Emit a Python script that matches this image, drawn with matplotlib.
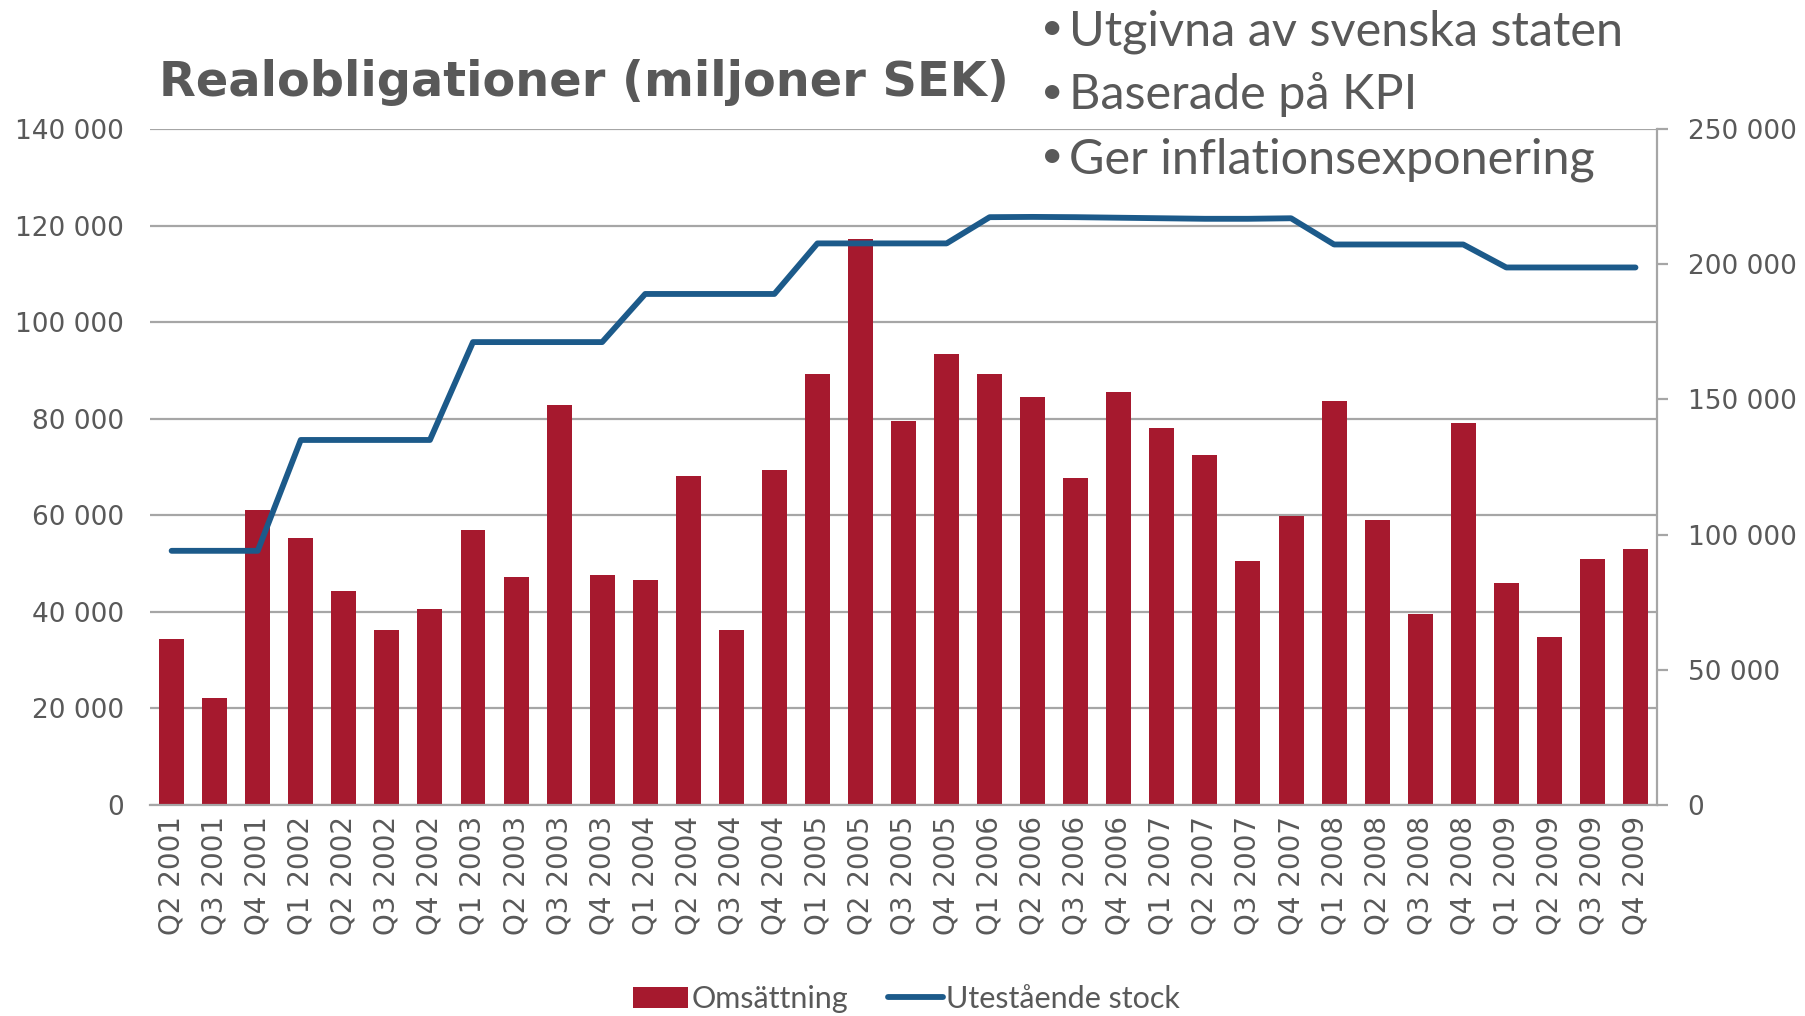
import numpy as np
import matplotlib.pyplot as plt

# kvartal
quarters = ["Q2 2001", "Q3 2001", "Q4 2001",
            "Q1 2002", "Q2 2002", "Q3 2002", "Q4 2002",
            "Q1 2003", "Q2 2003", "Q3 2003", "Q4 2003",
            "Q1 2004", "Q2 2004", "Q3 2004", "Q4 2004",
            "Q1 2005", "Q2 2005", "Q3 2005", "Q4 2005",
            "Q1 2006", "Q2 2006", "Q3 2006", "Q4 2006",
            "Q1 2007", "Q2 2007", "Q3 2007", "Q4 2007",
            "Q1 2008", "Q2 2008", "Q3 2008", "Q4 2008",
            "Q1 2009", "Q2 2009", "Q3 2009", "Q4 2009"]

# omsättning (vänster axel)
turnover = [34400, 22100, 61000,
            55200, 44300, 36200, 40600,
            57000, 47200, 82900, 47600,
            46700, 68200, 36300, 69400,
            89300, 117200, 79500, 93400,
            89200, 84400, 67800, 85600,
            78100, 72400, 50600, 59900,
            83700, 59000, 39600, 79200,
            46000, 34700, 50900, 53000]

# utestående stock (höger axel)
outstanding = [94000, 94000, 94000,
               135000, 135000, 135000, 135000,
               171200, 171200, 171200, 171200,
               189000, 189000, 189000, 189000,
               207700, 207700, 207700, 207700,
               217400, 217500, 217400, 217200,
               217000, 216800, 216800, 217000,
               207300, 207300, 207300, 207300,
               198800, 198800, 198800, 198800]

left_ticks = [0, 20000, 40000, 60000, 80000, 100000, 120000, 140000]
right_ticks = [0, 50000, 100000, 150000, 200000, 250000]

bullets = ["Utgivna av svenska staten", "Baserade på KPI", "Ger inflationsexponering"]

RED = "#A6192E"
BLUE = "#1C5A8A"
GREY = "#595959"
GRID = "#A6A6A6"

def fmt(v):
    return f"{v:,}".replace(",", " ")

fig = plt.figure(figsize=(18.06, 10.16), dpi=100)
ax = fig.add_axes([0.0831, 0.2077, 0.9175 - 0.0831, 0.873 - 0.2077])
x = np.arange(len(quarters))

bars = ax.bar(x, turnover, width=0.58, color=RED, zorder=2, label="Omsättning")
ax.set_xlim(-0.5, len(quarters) - 0.5)
ax.set_ylim(0, 140000)
ax.set_yticks(left_ticks)
ax.set_yticklabels([fmt(v) for v in left_ticks])
ax.yaxis.grid(True, color=GRID, linewidth=1.6, zorder=0)
ax.set_axisbelow(True)
ax.set_xticks(x)
ax.set_xticklabels(quarters, rotation=90)
ax.tick_params(axis="x", length=0, pad=8, labelsize=20, labelcolor=GREY)
ax.tick_params(axis="y", length=0, pad=19, labelsize=19, labelcolor=GREY)
for s in ["top", "left", "right"]:
    ax.spines[s].set_visible(False)
ax.spines["bottom"].set_color(GRID)
ax.spines["bottom"].set_linewidth(1.6)

ax2 = ax.twinx()
line, = ax2.plot(x, outstanding, color=BLUE, linewidth=4.2, solid_capstyle="round",
                 zorder=3, label="Utestående stock")
ax2.set_ylim(0, 250000)
ax2.set_yticks(right_ticks)
ax2.set_yticklabels([fmt(v) for v in right_ticks])
ax2.tick_params(axis="y", length=8, width=1.6, color=GRID, pad=14, labelsize=19, labelcolor=GREY)
for s in ["top", "left", "bottom"]:
    ax2.spines[s].set_visible(False)
ax2.spines["right"].set_color(GRID)
ax2.spines["right"].set_linewidth(1.6)

fig.text(0.088, 0.906, "Realobligationer (miljoner SEK)", fontsize=34.5, fontweight="bold",
         color=GREY, ha="left", va="baseline", family="DejaVu Sans")

for i, b in enumerate(bullets):
    yb = 0.9557 - i * 0.063
    fig.text(0.5765, yb + 0.006, "•", fontsize=28, color=GREY, ha="left", va="baseline",
             family=["Lato", "DejaVu Sans"])
    fig.text(0.592, yb, b, fontsize=35, color=GREY, ha="left", va="baseline",
             family=["Lato", "DejaVu Sans"])

fig.legend([bars, line], ["Omsättning", "Utestående stock"], loc="center",
           bbox_to_anchor=(0.502, 0.0167), ncol=2, frameon=False,
           prop={"family": ["Lato", "DejaVu Sans"], "size": 22},
           labelcolor=GREY, handlelength=1.8, handletextpad=0.1, columnspacing=1.3)

fig.savefig("out.png", dpi=100)
